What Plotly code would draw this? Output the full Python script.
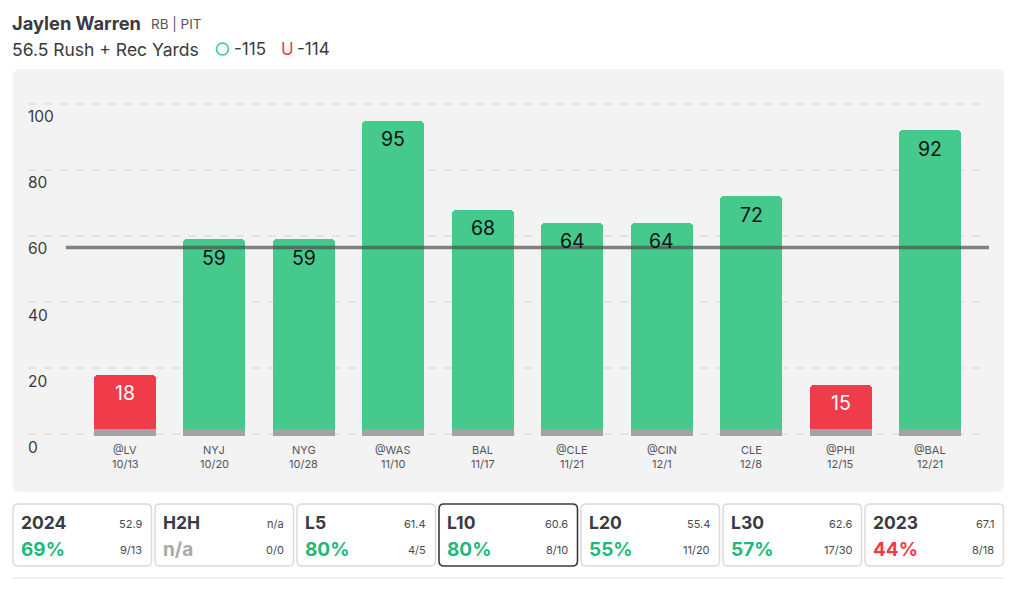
import plotly.graph_objects as go

W, H = 1024, 589
FONT = "Inter"
DARK = "#3a3a40"
GREEN_BAR = "#45C98D"
RED_BAR = "#F03C4A"
GREEN_TXT = "#1DB97A"
RED_TXT = "#F03C4A"

opponents = ["@LV", "NYJ", "NYG", "@WAS", "BAL", "@CLE", "@CIN", "CLE", "@PHI", "@BAL"]
dates = ["10/13", "10/20", "10/28", "11/10", "11/17", "11/21", "12/1", "12/8", "12/15", "12/21"]
yards = [18, 59, 59, 95, 68, 64, 64, 72, 15, 92]
prop_line = 56.5
y_ticks = [0, 20, 40, 60, 80, 100]

card_titles = ["2024", "H2H", "L5", "L10", "L20", "L30", "2023"]
card_avgs = ["52.9", "n/a", "61.4", "60.6", "55.4", "62.6", "67.1"]
card_pcts = ["69%", "n/a", "80%", "80%", "55%", "57%", "44%"]
card_records = ["9/13", "0/0", "4/5", "8/10", "11/20", "17/30", "8/18"]
card_pct_colors = [GREEN_TXT, "#A8A8A8", GREEN_TXT, GREEN_TXT, GREEN_TXT, GREEN_TXT, RED_TXT]
selected_card = "L10"

colors = [GREEN_BAR if v > prop_line else RED_BAR for v in yards]
xs = list(range(len(yards)))

# plot-area pixel box
PX0, PX1, PY0, PY1 = 28, 989, 60, 470
U = 3.3  # px per yard
Y0 = 434  # pixel of zero
yr = [(Y0 - PY1) / U, (Y0 - PY0) / U]
STEP = 89.44
X0 = 125
xr = [(PX0 - X0) / STEP, (PX1 - X0) / STEP]

fig = go.Figure()
fig.add_bar(x=xs, y=yards, width=62 / STEP, marker=dict(color=colors, cornerradius=4, line_width=0),
            hoverinfo="skip", showlegend=False)
fig.add_bar(x=xs, y=[2.1] * len(xs), base=[-0.6] * len(xs), width=62 / STEP,
            marker=dict(color="#A3A3A3", line_width=0), hoverinfo="skip", showlegend=False)
fig.add_scatter(x=[-0.66, 9.66], y=[prop_line, prop_line], mode="lines",
                line=dict(color="rgba(75,75,75,0.68)", width=3.5), hoverinfo="skip", showlegend=False)


def px(x):
    return x / W


def py(y):
    return 1 - y / H


def ptxt(x, y, text, size, color=DARK, bold=False, anchor="left"):
    return dict(xref="paper", yref="paper", x=px(x), y=py(y), text=f"<b>{text}</b>" if bold else text,
                showarrow=False, xanchor=anchor, yanchor="middle", align=anchor,
                font=dict(family=FONT, size=size, color=color), borderpad=0, borderwidth=0)


annotations = []
shapes = []

# value labels
for x, v, c in zip(xs, yards, colors):
    annotations.append(dict(x=x, y=v, xref="x", yref="y", text=str(v), showarrow=False, yanchor="middle",
                            yshift=-18.5, font=dict(family=FONT, size=19.5,
                                                    color="white" if c == RED_BAR else "#111111")))
# y tick labels (sit below their gridlines)
for t in y_ticks:
    annotations.append(dict(x=px(26), xref="paper", y=t, yref="y", text=str(t), showarrow=False, xanchor="left",
                            yanchor="middle", yshift=-13, font=dict(family=FONT, size=15.5, color=DARK)))
# x category labels
for x, o, d in zip(xs, opponents, dates):
    annotations.append(dict(x=x, xref="x", y=py(450), yref="paper", text=o, showarrow=False, yanchor="middle",
                            font=dict(family=FONT, size=11, color="#55555a")))
    annotations.append(dict(x=x, xref="x", y=py(464), yref="paper", text=d, showarrow=False, yanchor="middle",
                            font=dict(family=FONT, size=11, color="#55555a")))

# header
annotations += [
    ptxt(12, 23, "Jaylen Warren", 18.3, DARK, True),
    ptxt(150.5, 24, "RB | PIT", 13.5, "#55555a"),
    ptxt(12, 49, "56.5 Rush + Rec Yards", 17.5, DARK),
    ptxt(234, 49, "-115", 17, DARK),
    ptxt(280.5, 49, "U", 17, RED_TXT),
    ptxt(297, 49, "-114", 17, DARK),
]


def pshape(**k):
    return dict(xref="paper", yref="paper", **k)


def rr_paper(x0, y0, x1, y1, r, fill, line=None, lw=1.5):
    path = (f"M {px(x0+r)} {py(y0)} L {px(x1-r)} {py(y0)} Q {px(x1)} {py(y0)} {px(x1)} {py(y0+r)} "
            f"L {px(x1)} {py(y1-r)} Q {px(x1)} {py(y1)} {px(x1-r)} {py(y1)} "
            f"L {px(x0+r)} {py(y1)} Q {px(x0)} {py(y1)} {px(x0)} {py(y1-r)} "
            f"L {px(x0)} {py(y0+r)} Q {px(x0)} {py(y0)} {px(x0+r)} {py(y0)} Z")
    return pshape(type="path", layer="below", fillcolor=fill, path=path,
                  line=dict(color=line or "rgba(0,0,0,0)", width=lw if line else 0))


# panel
shapes.append(rr_paper(13, 69, 1004, 492, 7, "#F3F3F3"))
# gridlines
for t in y_ticks:
    shapes.append(dict(type="line", xref="paper", x0=px(PX0), x1=px(PX1), yref="y", y0=t, y1=t, layer="below",
                       line=dict(color="#DEDEDE", width=1.5, dash="8px,8px")))
# over icon
shapes.append(pshape(type="circle", x0=px(216.5), x1=px(228.5), y0=py(55), y1=py(43),
                     line=dict(color="#3CCB8E", width=1.6), fillcolor="rgba(0,0,0,0)"))
# bottom rule
shapes.append(pshape(type="line", x0=px(13), x1=px(1004), y0=py(578), y1=py(578),
                     line=dict(color="#E2E2E2", width=1.2)))

# summary cards
for i, (t, a, p, r, c) in enumerate(zip(card_titles, card_avgs, card_pcts, card_records, card_pct_colors)):
    x0 = 13 + i * 142
    x1 = x0 + 138.5
    sel = t == selected_card
    shapes.append(rr_paper(x0, 504, x1, 566, 5, "white", "#3a3a40" if sel else "#D9D9D9", 1.6 if sel else 1.4))
    annotations += [
        ptxt(x0 + 8, 522.5, t, 17.5, DARK, True),
        ptxt(x0 + 8, 549, p, 19, c, True),
        ptxt(x1 - 9.5, 523.5, a, 11, "#4a4a4f", anchor="right"),
        ptxt(x1 - 9.5, 550, r, 11, "#4a4a4f", anchor="right"),
    ]

fig.update_layout(
    width=W, height=H, autosize=False, barmode="overlay", bargap=0,
    paper_bgcolor="white", plot_bgcolor="rgba(0,0,0,0)",
    margin=dict(l=0, r=0, t=0, b=0, pad=0),
    xaxis=dict(domain=[PX0 / W, PX1 / W], range=xr, showgrid=False, zeroline=False, showticklabels=False, ticks="",
               showline=False, fixedrange=True),
    yaxis=dict(domain=[1 - PY1 / H, 1 - PY0 / H], range=yr, showgrid=False, zeroline=False, showticklabels=False,
               ticks="", showline=False, fixedrange=True),
    annotations=annotations, shapes=shapes,
    font=dict(family=FONT),
)
fig.write_html("out.html", config={"displayModeBar": False},
               post_script="document.body.style.margin='0';document.documentElement.style.overflow='hidden';")
